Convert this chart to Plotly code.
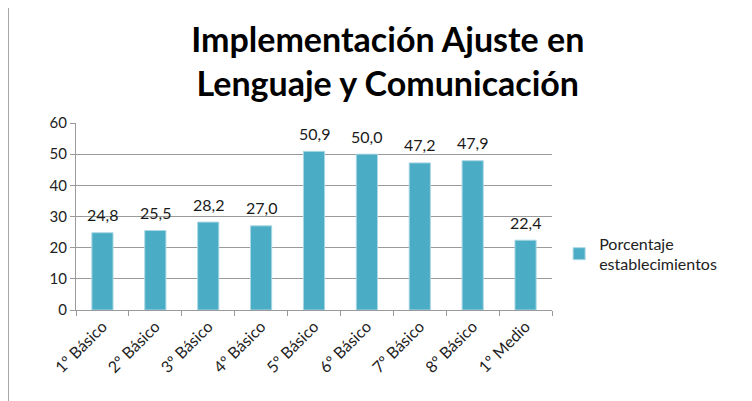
import plotly.graph_objects as go

# Datos del gráfico
cursos = ["1º Básico", "2º Básico", "3º Básico", "4º Básico", "5º Básico",
          "6º Básico", "7º Básico", "8º Básico", "1º Medio"]
porcentaje = [24.8, 25.5, 28.2, 27.0, 50.9, 50.0, 47.2, 47.9, 22.4]
etiquetas = [f"{v:.1f}".replace(".", ",") for v in porcentaje]
y_ticks = [0, 10, 20, 30, 40, 50, 60]

BAR_COLOR = "#4BACC6"
GRID = "#9A9A9A"
FONT = "Lato"

fig = go.Figure(go.Bar(
    x=cursos,
    y=porcentaje,
    name="Porcentaje<br>establecimientos",
    marker=dict(color=BAR_COLOR, line=dict(color="#A9D7E3", width=1)),
    hovertemplate="%{x}: %{y}<extra></extra>",
))

# etiquetas de datos sobre cada barra
for c, v, t in zip(cursos, porcentaje, etiquetas):
    fig.add_annotation(
        x=c, y=v, text=t, showarrow=False,
        yanchor="middle", yshift=18,
        font=dict(size=16, color="#1a1a1a", family=FONT),
    )

fig.update_layout(
    title=dict(
        text="<b>Implementación Ajuste en<br>Lenguaje y Comunicación</b>",
        font=dict(size=34, family=FONT, color="black"),
        x=0.505, xanchor="center", y=0.89, yanchor="top",
    ),
    width=752, height=401,
    margin=dict(l=68, r=208, t=115, b=99),
    paper_bgcolor="white",
    plot_bgcolor="white",
    bargap=0.6,
    showlegend=True,
    legend=dict(
        x=1.015, y=0.30, xanchor="left", yanchor="middle",
        font=dict(size=16, family=FONT, color="#222"),
        itemwidth=30,
    ),
    xaxis=dict(
        type="category",
        tickangle=-45,
        tickfont=dict(size=16, family=FONT, color="#222"),
        showline=True, linecolor=GRID, linewidth=1,
        ticks="outside", tickson="boundaries", ticklen=5, tickcolor=GRID,
        showgrid=False, automargin=False,
    ),
    yaxis=dict(
        range=[0, 60],
        tickvals=y_ticks,
        tickfont=dict(size=15, family=FONT, color="#222"),
        showline=True, linecolor=GRID, linewidth=1,
        ticks="outside", ticklen=5, tickcolor=GRID,
        showgrid=True, gridcolor=GRID, gridwidth=1,
        zeroline=False, automargin=False,
    ),
    shapes=[dict(
        type="line", xref="paper", yref="paper",
        x0=-0.143, x1=-0.143, y0=-0.55, y1=1.66,
        line=dict(color="#A0A0A0", width=2),
    )],
)

fig.write_html("out.html")
